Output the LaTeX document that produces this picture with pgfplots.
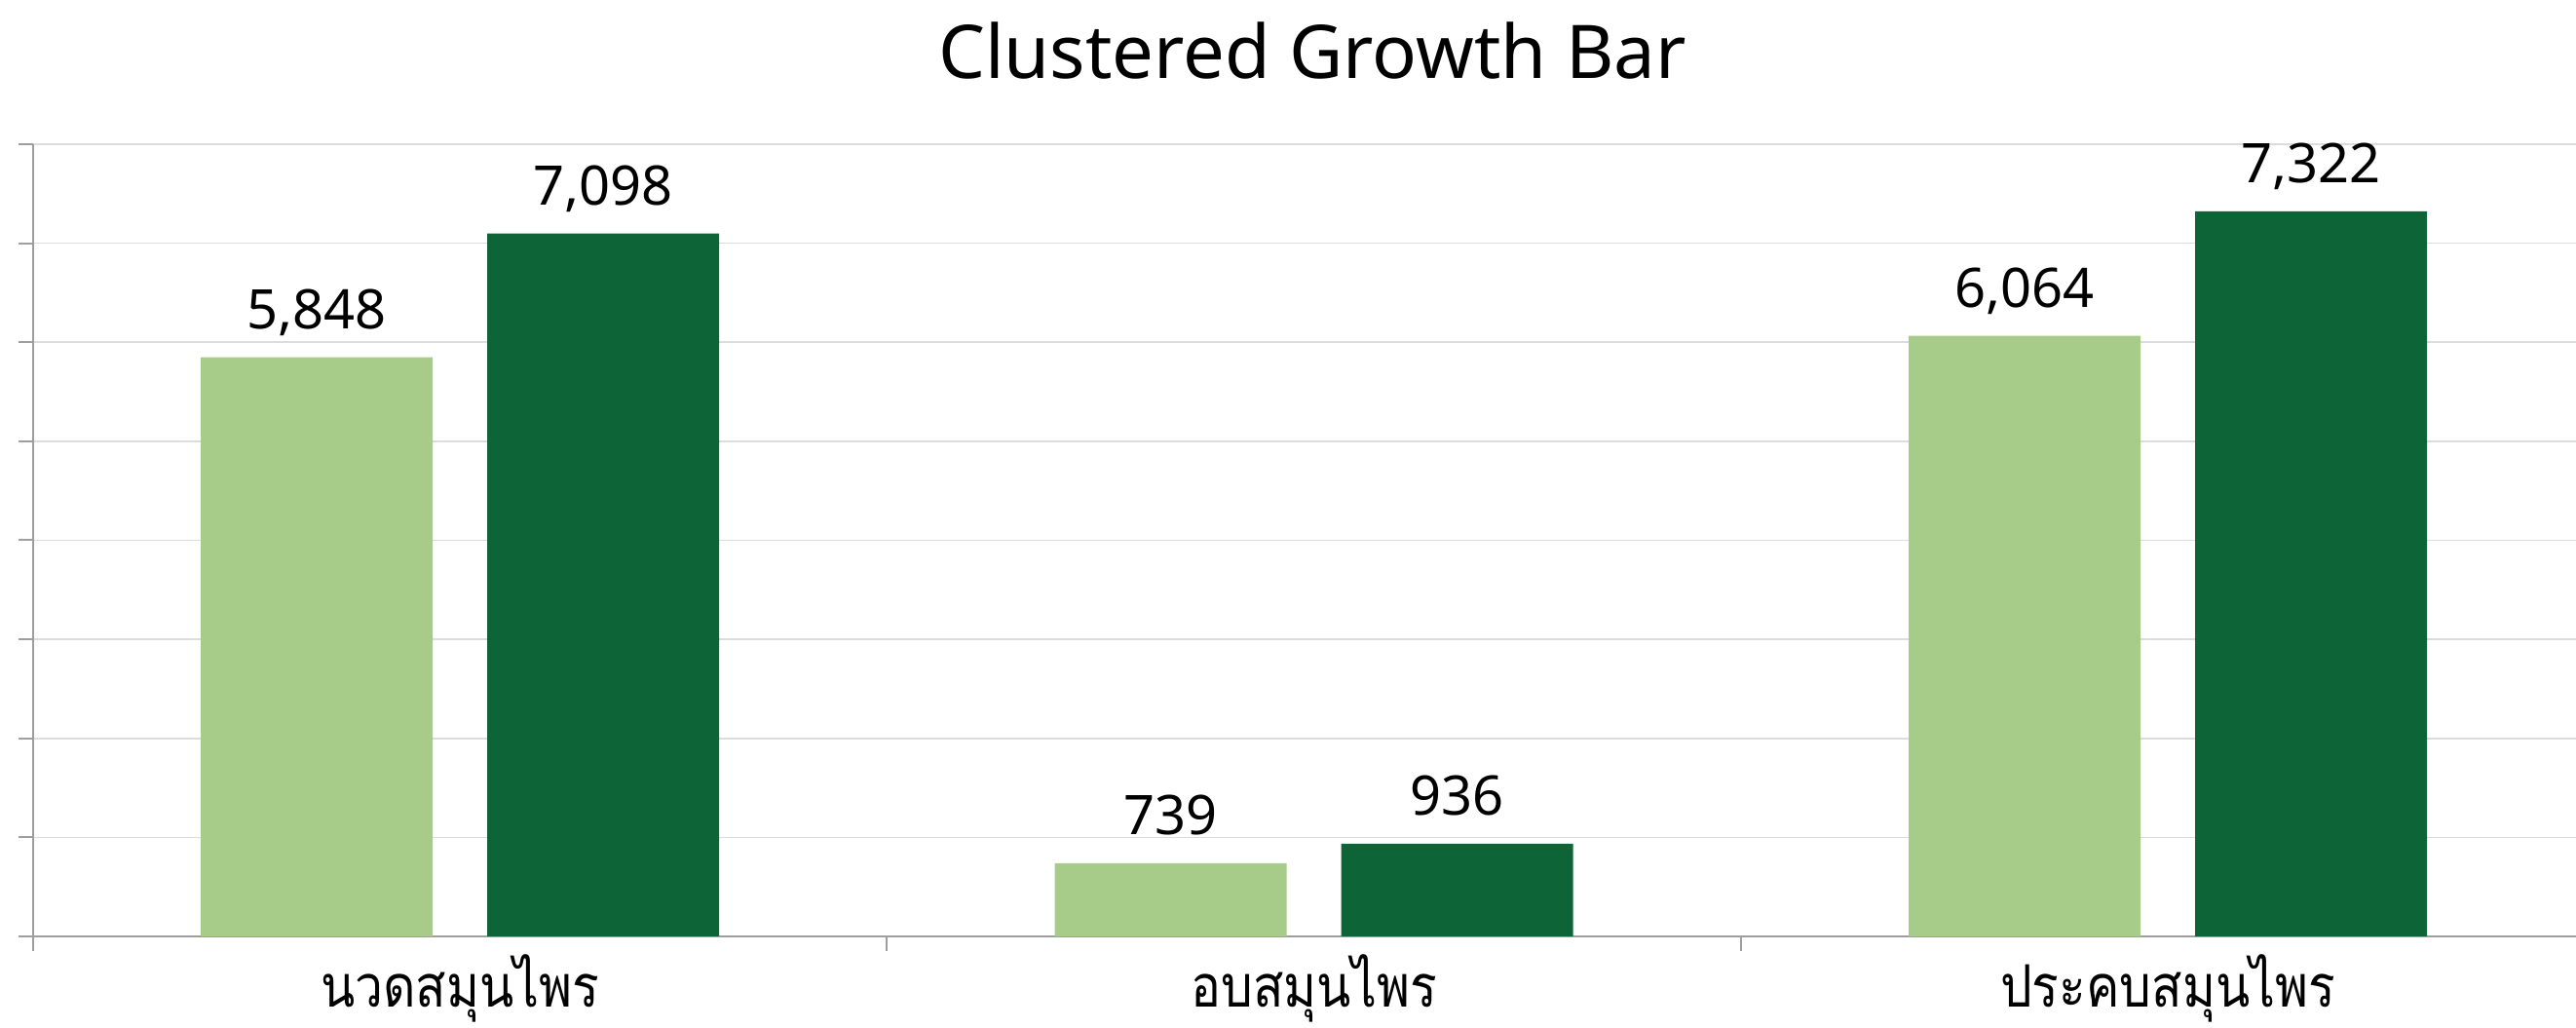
\documentclass[border=0pt]{standalone}
\usepackage{fontspec}
\setmainfont{Noto Sans}
\newfontfamily\thaifont[Script=Thai, FakeStretch=0.86]{Loma}
\usepackage{pgfplots}
\pgfplotsset{compat=1.18}
\usetikzlibrary{calc}

\definecolor{lightgreen}{HTML}{A7CC89}
\definecolor{darkgreen}{HTML}{0C6437}
\definecolor{gridgray}{HTML}{DCDCDC}
\definecolor{axisgray}{HTML}{9E9E9E}

\begin{document}
\begin{tikzpicture}
\begin{axis}[
  scale only axis,
  width=652.5pt, height=203.25pt,
  ybar,
  xmin=-0.5, xmax=2.478,
  ymin=0, ymax=8000,
  axis x line=bottom, axis y line=left,
  axis line style={-, axisgray, line width=0.5pt},
  xtick={0,1,2},
  xticklabels={นวดสมุนไพร, อบสมุนไพร, ประคบสมุนไพร},
  xticklabel style={font=\thaifont\fontsize{15}{18}\selectfont, anchor=base, yshift=-14.5pt},
  major x tick style={draw=none},
  minor xtick={-0.5,0.5,1.5},
  minor x tick style={axisgray, line width=0.5pt},
  ytick={0,1000,...,8000},
  yticklabels={},
  major y tick style={axisgray, line width=0.5pt},
  tick align=outside,
  major tick length=3.75pt,
  minor tick length=3.75pt,
  ymajorgrids,
  grid style={gridgray, line width=0.4pt},
  bar width=59.5pt,
  /pgf/number format/assume math mode=true,
  /pgf/number format/1000 sep={,},
  nodes near coords,
  every node near coord/.append style={font=\fontsize{14}{16}\selectfont, anchor=base, yshift=7.3pt, text=black},
  title={Clustered Growth Bar},
  title style={font=\fontsize{19}{23}\selectfont, at={(0.503,1)}, anchor=base, yshift=10.75pt},
  clip=false,
]
\addplot[draw=none, fill=lightgreen, bar shift=-36.75pt] coordinates {(0,5848) (1,739) (2,6064)};
\addplot[draw=none, fill=darkgreen, bar shift=36.75pt] coordinates {(0,7098) (1,936) (2,7322)};
\end{axis}
\pgfresetboundingbox
\path[use as bounding box] ($(current axis.south west)+(-8.5pt,-23.5pt)$) rectangle ($(current axis.north east)+(0,37pt)$);
\end{tikzpicture}
\end{document}
